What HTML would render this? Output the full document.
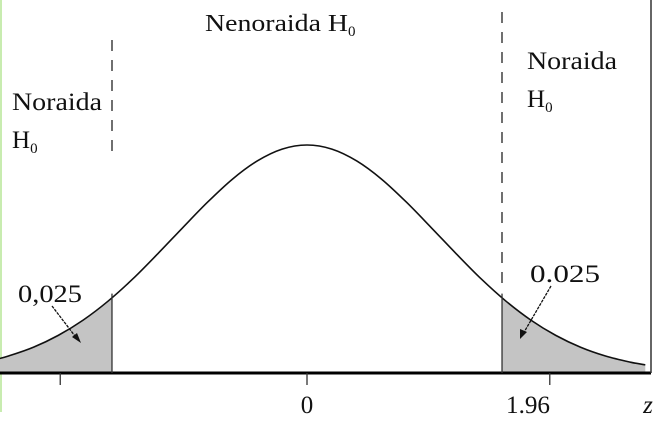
<!DOCTYPE html>
<html><head><meta charset="utf-8"><style>
body{margin:0;background:#fff;width:662px;height:426px;overflow:hidden}
svg text{font-family:"Liberation Serif",serif;fill:#111}
</style></head><body>
<svg width="662" height="426" viewBox="0 0 662 426">
<line x1="1" y1="0" x2="1" y2="412" stroke="#c8ecb0" stroke-width="2"/>
<g id="shade"></g>
<path id="curve" fill="none" stroke="#111" stroke-width="1.6"/>
<line x1="0" y1="373" x2="651" y2="373" stroke="#000" stroke-width="3"/>
<line x1="651" y1="0" x2="651" y2="373" stroke="#333" stroke-width="1.5"/>
<g id="crit"></g>
<g id="ticks"></g>
<line x1="112" y1="40" x2="112" y2="155" stroke="#222" stroke-width="1.3" stroke-dasharray="11,9"/>
<line x1="502" y1="12" x2="502" y2="290" stroke="#222" stroke-width="1.3" stroke-dasharray="11,9"/>
<text x="205" y="31" font-size="24"><tspan textLength="143" lengthAdjust="spacingAndGlyphs">Nenoraida H</tspan><tspan font-size="15" dy="5">0</tspan></text>
<text x="12" y="110" font-size="25" textLength="90" lengthAdjust="spacingAndGlyphs">Noraida</text>
<text x="12" y="148" font-size="25">H<tspan font-size="15" dy="5">0</tspan></text>
<text x="527" y="69" font-size="25" textLength="90" lengthAdjust="spacingAndGlyphs">Noraida</text>
<text x="527" y="107" font-size="25">H<tspan font-size="15" dy="5">0</tspan></text>
<text x="18" y="302" font-size="25" textLength="64" lengthAdjust="spacingAndGlyphs">0,025</text>
<text x="530" y="282" font-size="25" textLength="70" lengthAdjust="spacingAndGlyphs">0.025</text>
<line x1="52" y1="306" x2="78" y2="340" stroke="#111" stroke-width="1.3" stroke-dasharray="3,1"/>
<polygon points="81,343 72,337 77,333" fill="#111"/>
<line x1="551" y1="286" x2="523" y2="334" stroke="#111" stroke-width="1.3" stroke-dasharray="3,1"/>
<polygon points="520,339 520,329 527,332" fill="#111"/>
<text x="307" y="413" font-size="25" text-anchor="middle">0</text>
<text x="506" y="413" font-size="25" textLength="44" lengthAdjust="spacingAndGlyphs">1.96</text>
<text x="648" y="413" font-size="25" font-style="italic" text-anchor="middle">z</text>
</svg>
<script>
const zValues=[-3.1,-3,-2.75,-2.5,-2.25,-2,-1.75,-1.5,-1.25,-1,-0.75,-0.5,-0.25,0,0.25,0.5,0.75,1,1.25,1.5,1.75,2,2.25,2.5,2.75,3,3.25,3.4];
const density=[0.0625,0.0745,0.113,0.165,0.232,0.315,0.413,0.523,0.637,0.749,0.85,0.93,0.982,1,0.982,0.93,0.85,0.749,0.637,0.523,0.413,0.315,0.232,0.165,0.113,0.0745,0.0475,0.0356];
const critical=[-1.96,1.96];
const tickValues=[-2.48,0,2.44];
const X=z=>307+z*99.5, Y=d=>373-228*d;
const NS="http://www.w3.org/2000/svg";
function interp(z){for(let i=0;i<zValues.length-1;i++){if(z>=zValues[i]&&z<=zValues[i+1]){const t=(z-zValues[i])/(zValues[i+1]-zValues[i]);return density[i]+t*(density[i+1]-density[i]);}}return density[density.length-1];}
function smoothPath(){let d='M'+X(zValues[0])+','+Y(density[0]);
for(let i=0;i<zValues.length-1;i++){const p0=[X(zValues[Math.max(i-1,0)]),Y(density[Math.max(i-1,0)])],p1=[X(zValues[i]),Y(density[i])],p2=[X(zValues[i+1]),Y(density[i+1])],p3=[X(zValues[Math.min(i+2,zValues.length-1)]),Y(density[Math.min(i+2,zValues.length-1)])];
const c1=[p1[0]+(p2[0]-p0[0])/6,p1[1]+(p2[1]-p0[1])/6],c2=[p2[0]-(p3[0]-p1[0])/6,p2[1]-(p3[1]-p1[1])/6];
d+='C'+c1.join(',')+' '+c2.join(',')+' '+p2.join(',');}return d;}
document.getElementById('curve').setAttribute('d',smoothPath());
function tail(a,b,name){let pts=[[X(a),373]];const zs=[a,...zValues.filter(z=>z>a&&z<b),b];zs.forEach(z=>pts.push([X(z),Y(interp(z))]));pts.push([X(b),373]);
const p=document.createElementNS(NS,'polygon');p.setAttribute('points',pts.map(q=>q.join(',')).join(' '));p.setAttribute('fill','#c4c4c4');


document.getElementById('shade').appendChild(p);}
tail(zValues[0],critical[0],'left-tail-area');
tail(critical[1],zValues[zValues.length-1],'right-tail-area');
critical.forEach((c,i)=>{const l=document.createElementNS(NS,'line');l.setAttribute('x1',X(c));l.setAttribute('x2',X(c));l.setAttribute('y1',Y(interp(c))-4);l.setAttribute('y2',373);l.setAttribute('stroke','#333');l.setAttribute('stroke-width','1.3');


document.getElementById('crit').appendChild(l);});
tickValues.forEach((t,i)=>{const l=document.createElementNS(NS,'line');l.setAttribute('x1',X(t));l.setAttribute('x2',X(t));l.setAttribute('y1',373);l.setAttribute('y2',385);l.setAttribute('stroke','#333');l.setAttribute('stroke-width','1.3');


document.getElementById('ticks').appendChild(l);});
</script>
</body></html>
